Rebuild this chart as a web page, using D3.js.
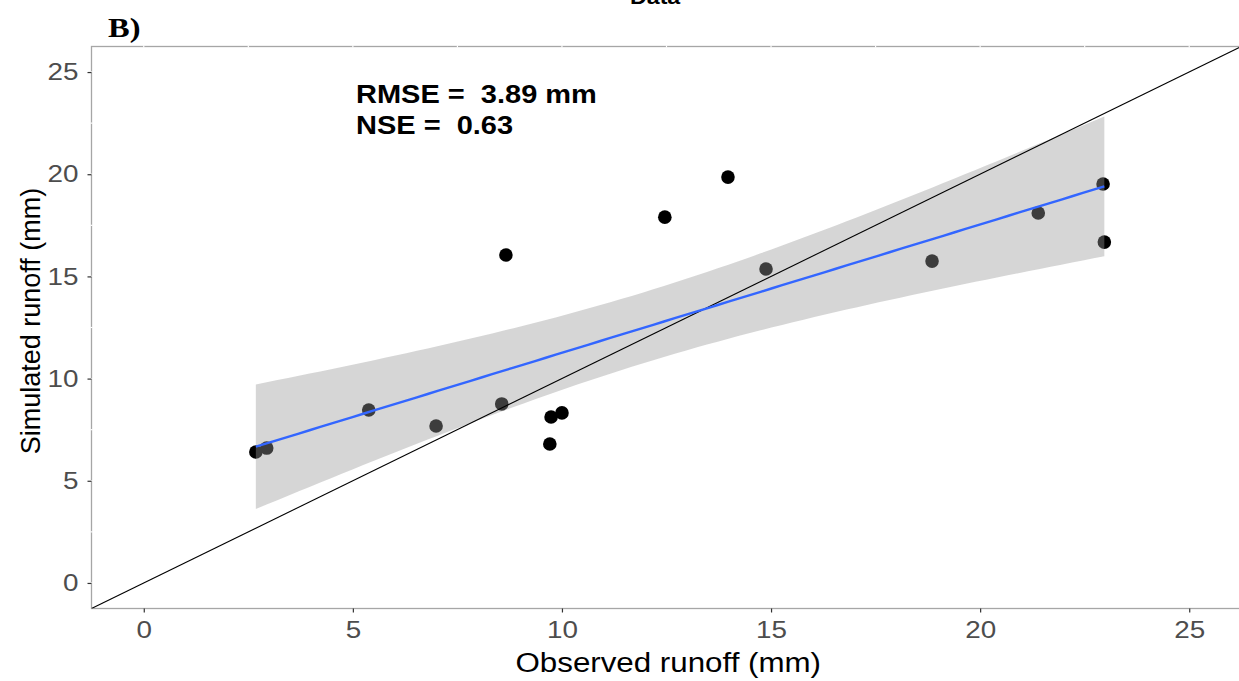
<!DOCTYPE html>
<html>
<head>
<meta charset="utf-8">
<script src="https://cdn.jsdelivr.net/npm/d3@7"></script>
<style>
  html, body { margin: 0; padding: 0; background: #fff; }
  svg { display: block; }
</style>
</head>
<body>
<svg id="chart" width="1239" height="681"></svg>
<script>
// ---- data ----
const observed  = [2.68, 2.94, 5.38, 6.99, 8.56, 8.66, 9.71, 9.74, 10.0, 12.46, 13.97, 14.88, 18.85, 21.39, 22.94, 22.97];
const simulated = [6.41, 6.60, 8.46, 7.68, 8.76, 16.05, 6.80, 8.12, 8.32, 17.90, 19.86, 15.36, 15.75, 18.10, 19.52, 16.68];
const xTicks = [0, 5, 10, 15, 20, 25];
const yTicks = [0, 5, 10, 15, 20, 25];
const axisLimits = [0, 25];
const statLines = ["RMSE =  3.89 mm", "NSE =  0.63"];
const panelLabel = "B)";
const topTitle = "Data";
const xTitle = "Observed runoff (mm)";
const yTitle = "Simulated runoff (mm)";
const tQuantile = 2.145; // t(0.975, df = 14)

// ---- layout ----
const SANS = "'Liberation Sans', Arial, sans-serif";
const SERIF = "'Liberation Serif', 'Times New Roman', serif";
const svg = d3.select("#chart");
const P = { left: 91.5, right: 1241.5, top: 46.5, bottom: 608.5 };
const expand = (axisLimits[1] - axisLimits[0]) * 0.05;
const dom = [axisLimits[0] - expand, axisLimits[1] + expand];
const x = d3.scaleLinear().domain(dom).range([P.left, P.right]);
const y = d3.scaleLinear().domain(dom).range([P.bottom, P.top]);
const SX = 1.16; // horizontal glyph stretch seen in the reference

svg.append("defs").append("clipPath").attr("id", "clip")
  .append("rect").attr("x", P.left).attr("y", P.top)
  .attr("width", P.right - P.left).attr("height", P.bottom - P.top);

// panel border
svg.append("rect").attr("x", P.left).attr("y", P.top)
  .attr("width", P.right - P.left).attr("height", P.bottom - P.top)
  .attr("fill", "#fff").attr("stroke", "#a6a6a6").attr("stroke-width", 1.3);

// white grid lines (visible only where they cross the border)
const gx = d3.range(0, 26.25, 2.5);
const grid = svg.append("g").attr("stroke", "#fff").attr("stroke-width", 1.2);
grid.selectAll(".gx").data(gx).join("line")
  .attr("x1", d => x(d)).attr("x2", d => x(d)).attr("y1", P.top - 1).attr("y2", P.top + 1);
grid.selectAll(".gy").data(gx).join("line")
  .attr("y1", d => y(d)).attr("y2", d => y(d)).attr("x1", P.left - 1).attr("x2", P.left + 1);

const plot = svg.append("g").attr("clip-path", "url(#clip)");

// points
const pts = observed.map((o, i) => ({ o, s: simulated[i] }));
plot.append("g").selectAll("circle").data(pts).join("circle")
  .attr("cx", d => x(d.o)).attr("cy", d => y(d.s)).attr("r", 6.8).attr("fill", "#000");

// linear fit with 95% confidence band
const n = pts.length;
const mx = d3.mean(observed), my = d3.mean(simulated);
const sxx = d3.sum(observed, v => (v - mx) ** 2);
const sxy = d3.sum(pts, d => (d.o - mx) * (d.s - my));
const b = sxy / sxx, a = my - b * mx;
const sse = d3.sum(pts, d => (d.s - a - b * d.o) ** 2);
const sres = Math.sqrt(sse / (n - 2));
const [xmin, xmax] = d3.extent(observed);
const grid80 = d3.range(80).map(i => xmin + (xmax - xmin) * i / 79);
const band = grid80.map(v => {
  const fit = a + b * v;
  const se = sres * Math.sqrt(1 / n + (v - mx) ** 2 / sxx);
  return { v, fit, lo: fit - tQuantile * se, hi: fit + tQuantile * se };
});
plot.append("path").datum(band)
  .attr("d", d3.area().x(d => x(d.v)).y0(d => y(d.lo)).y1(d => y(d.hi)))
  .attr("fill", "#999999").attr("fill-opacity", 0.4);

// 1:1 line
plot.append("line")
  .attr("x1", x(dom[0])).attr("y1", y(dom[0])).attr("x2", x(dom[1])).attr("y2", y(dom[1]))
  .attr("stroke", "#000").attr("stroke-width", 1.1);

// fit line
plot.append("path").datum(band)
  .attr("d", d3.line().x(d => x(d.v)).y(d => y(d.fit)))
  .attr("fill", "none").attr("stroke", "#3366FF").attr("stroke-width", 2.4);

// axes
const xAxis = svg.append("g").attr("transform", `translate(0,${P.bottom})`)
  .call(d3.axisBottom(x).tickValues(xTicks).tickSize(4).tickPadding(8).tickSizeOuter(0));
const yAxis = svg.append("g").attr("transform", `translate(${P.left},0)`)
  .call(d3.axisLeft(y).tickValues(yTicks).tickSize(4).tickPadding(6).tickSizeOuter(0));
[xAxis, yAxis].forEach(g => {
  g.select(".domain").remove();
  g.selectAll(".tick line").attr("stroke", "#333").attr("stroke-width", 1.2);
  g.selectAll(".tick text").attr("fill", "#4d4d4d")
    .style("font-family", SANS).style("font-size", "24px");
});
xAxis.selectAll(".tick text").attr("transform", `scale(${SX},1)`).attr("x", 0);
yAxis.selectAll(".tick text").attr("transform", `scale(${SX},1)`).attr("x", -13 / SX);

// axis titles
svg.append("text").attr("transform", `translate(${(P.left + 1239) / 2 + 3},672) scale(${SX},1)`)
  .attr("text-anchor", "middle").style("font-family", SANS).style("font-size", "27px")
  .attr("fill", "#000").text(xTitle);
svg.append("text").attr("transform", `translate(40,321) rotate(-90)`)
  .attr("text-anchor", "middle").style("font-family", SANS).style("font-size", "27px")
  .attr("fill", "#000").text(yTitle);

// stats annotation
svg.selectAll(".stat").data(statLines).join("text")
  .attr("transform", (d, i) => `translate(356,${[103, 134][i]}) scale(${SX},1)`)
  .style("font-family", SANS).style("font-size", "25px").style("white-space", "pre")
  .attr("font-weight", "bold").attr("fill", "#000").text(d => d);

// panel label and clipped title
svg.append("text").attr("transform", `translate(108,37) scale(${SX},1)`)
  .style("font-family", SERIF).style("font-size", "28px")
  .attr("font-weight", "bold").attr("fill", "#000").text(panelLabel);
svg.append("text").attr("transform", `translate(630,4) scale(${SX},1)`)
  .style("font-family", SANS).style("font-size", "20px")
  .attr("font-weight", "bold").attr("fill", "#000").text(topTitle);
</script>
</body>
</html>
